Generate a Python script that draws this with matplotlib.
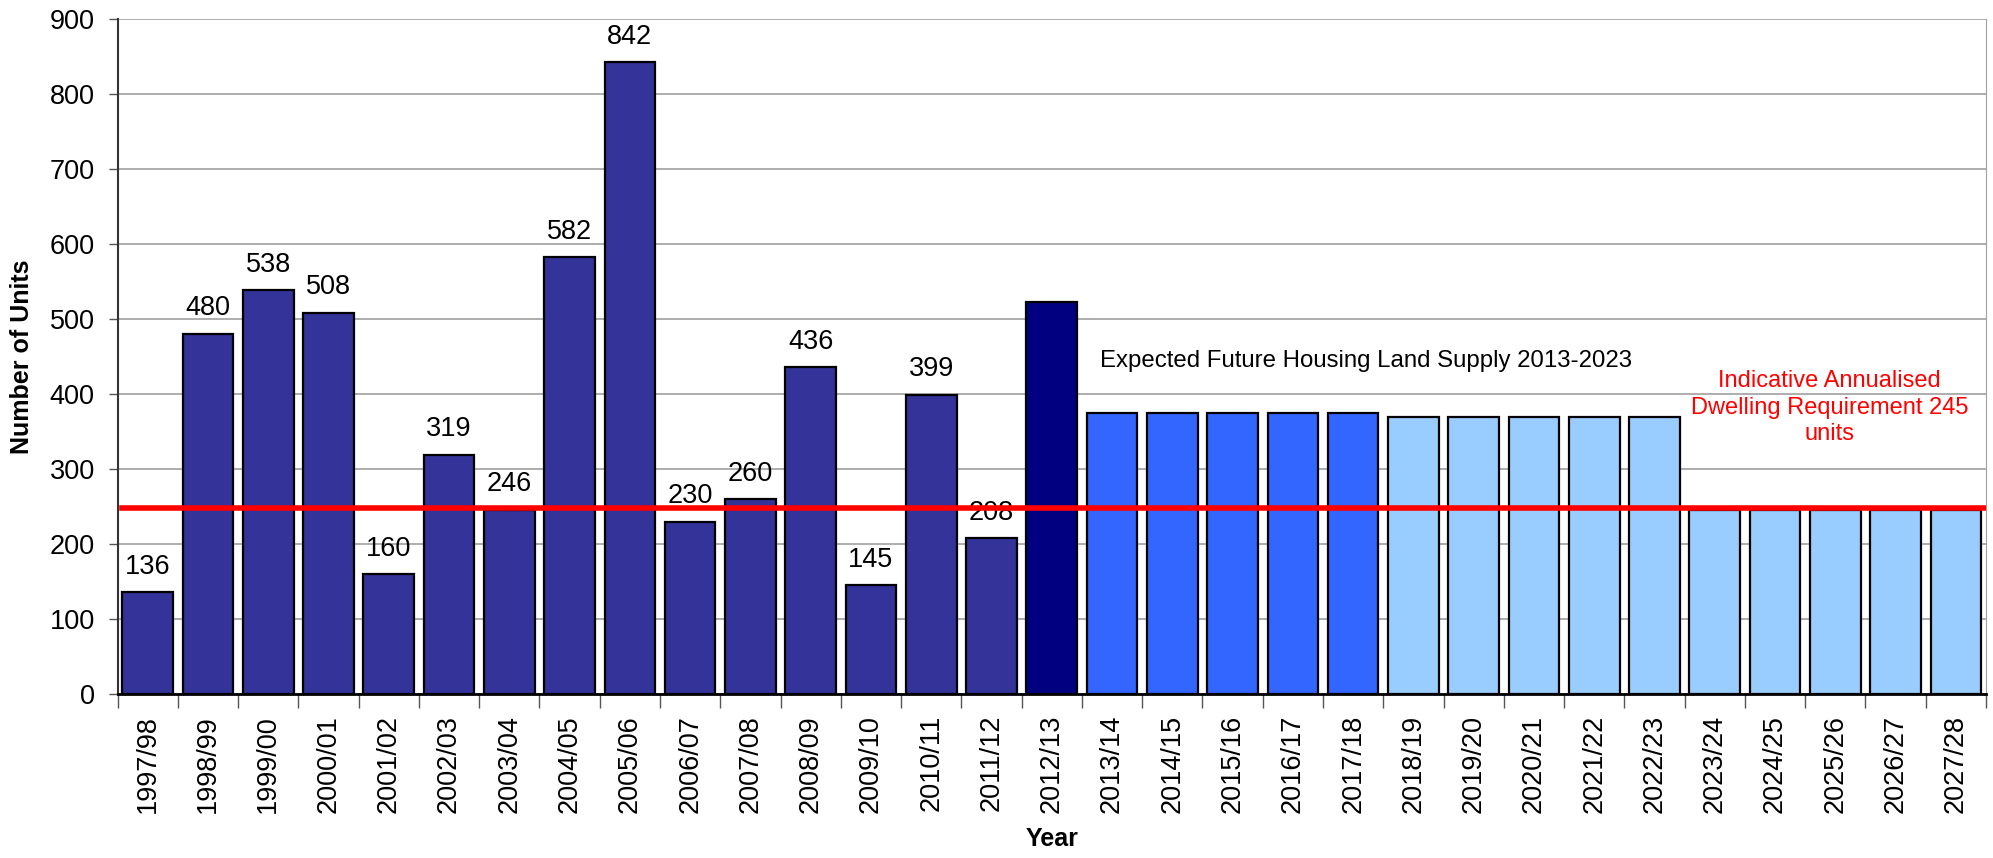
import matplotlib.pyplot as plt
import numpy as np

# data
years = ['1997/98', '1998/99', '1999/00', '2000/01', '2001/02', '2002/03', '2003/04',
         '2004/05', '2005/06', '2006/07', '2007/08', '2008/09', '2009/10', '2010/11',
         '2011/12', '2012/13', '2013/14', '2014/15', '2015/16', '2016/17', '2017/18',
         '2018/19', '2019/20', '2020/21', '2021/22', '2022/23', '2023/24', '2024/25',
         '2025/26', '2026/27', '2027/28']
completions = [136, 480, 538, 508, 160, 319, 246, 582, 842, 230, 260, 436, 145, 399, 208]
current_year = [522]
supply_1_5 = [375, 375, 375, 375, 375]
supply_6_10 = [370, 370, 370, 370, 370]
beyond = [245, 245, 245, 245, 245]
requirement = 248

values = completions + current_year + supply_1_5 + supply_6_10 + beyond
colors = (['#333399'] * len(completions) + ['#000080'] * len(current_year)
          + ['#3366FF'] * len(supply_1_5) + ['#99CCFF'] * (len(supply_6_10) + len(beyond)))

plt.rcParams['font.family'] = ['Liberation Sans', 'DejaVu Sans']
narrow = ['Liberation Sans Narrow', 'Liberation Sans', 'DejaVu Sans']

fig = plt.figure(figsize=(19.93, 8.58), dpi=100)
ax = fig.add_axes([0.059, 0.191, 0.9375, 0.787])

x = np.arange(len(years))
bw = 0.84
ax.bar(x, values, width=bw, color=colors, edgecolor='black', linewidth=1.6, zorder=3)

# labels on the past completions
for i, v in enumerate(completions):
    ax.annotate(str(v), (x[i], v), xytext=(0, 9), textcoords='offset points',
                ha='center', va='bottom', fontsize=19.5)

ax.plot([-bw / 2, len(years) - 0.5], [requirement, requirement], color='#FF0000',
        linewidth=4, zorder=4)
ax.text(15.8, 444, 'Expected Future Housing Land Supply 2013-2023', fontsize=17.3,
        family=narrow, va='center', ha='left')
ax.text(27.9, 382, 'Indicative Annualised\nDwelling Requirement 245\nunits', fontsize=17,
        color='#FF0000', ha='center', va='center', linespacing=1.27)

ax.set_xlim(-0.5, len(years) - 0.5)
ax.set_ylim(0, 900)
ax.set_yticks(range(0, 901, 100))
ax.tick_params(axis='y', labelsize=19.5, length=6.5, width=1, color='#555555', pad=10)
ax.set_xticks(x)
ax.set_xticklabels(years, rotation=90, fontsize=19.5)
ax.tick_params(axis='x', which='major', length=0, pad=15)
ax.set_xticks(np.arange(-0.5, len(years), 1), minor=True)
ax.tick_params(axis='x', which='minor', length=10, width=1, color='#555555')

ax.grid(axis='y', color='#A0A0A0', linewidth=1.2, zorder=0)
ax.spines['top'].set_visible(False)
ax.spines['right'].set_color('#A0A0A0')
ax.spines['left'].set_color('#333333')
ax.spines['left'].set_linewidth(1.5)
ax.spines['bottom'].set_color('black')
ax.spines['bottom'].set_linewidth(2)

ax.set_ylabel('Number of Units', fontsize=18, fontweight='bold', family=narrow, labelpad=11)
ax.set_xlabel('Year', fontsize=18, fontweight='bold', family=narrow, labelpad=10)

fig.savefig('out.png', dpi=100)
